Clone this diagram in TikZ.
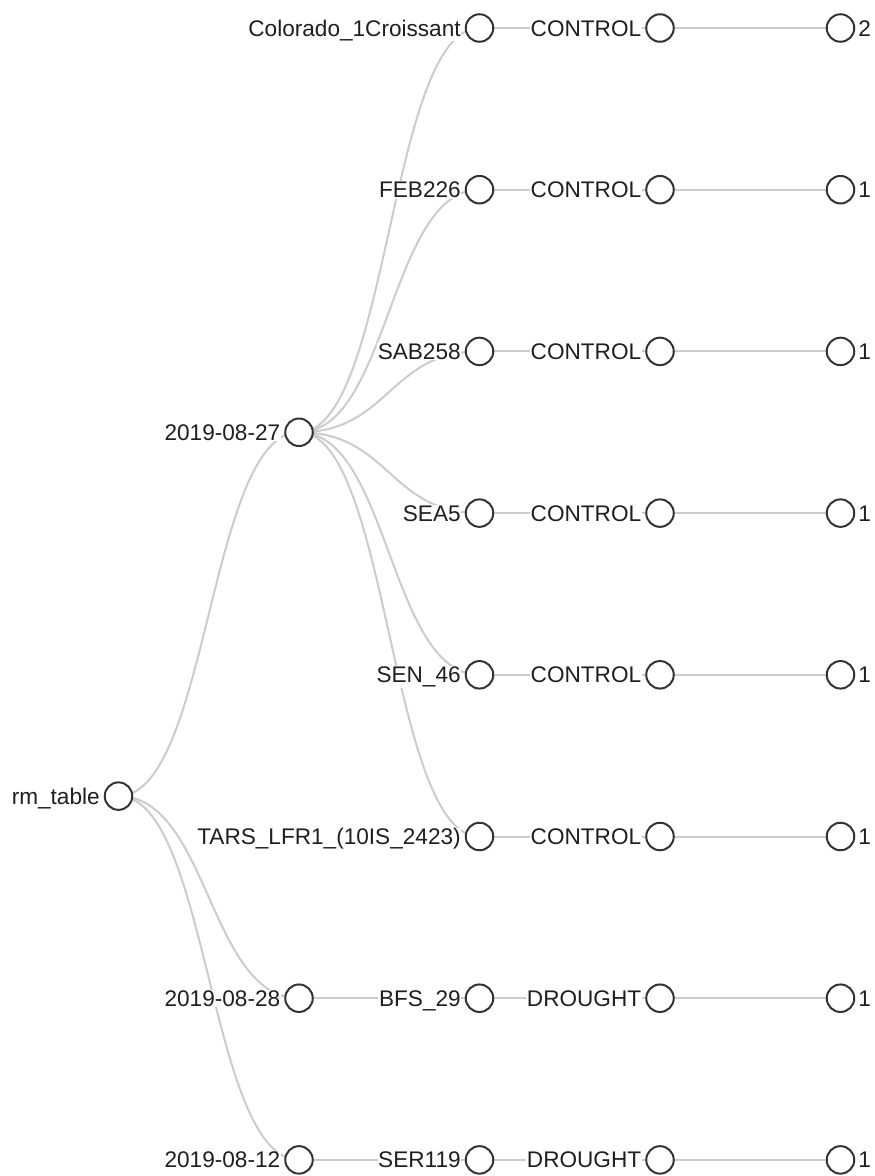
\documentclass[tikz,border=0pt]{standalone}
\usepackage{fontspec}
\setmainfont{Liberation Sans}
\usetikzlibrary{calc,backgrounds}
\begin{document}
\begin{tikzpicture}[x=1pt,y=-1pt,
  dot/.style={circle,draw=black!80,line width=2pt,fill=white,minimum size=27.5pt,inner sep=0pt},
  txt/.style={font=\fontsize{22.6}{27}\selectfont,text=black!88,fill=white,inner sep=0.6pt},
  lbl/.style={txt,anchor=base east},
  lbr/.style={txt,anchor=base west},
  link/.style={draw=black!20,line width=2pt,
    to path={let \p1=(\tikztostart),\p2=(\tikztotarget) in
      .. controls ({(\x1+\x2)/2},\y1) and ({(\x1+\x2)/2},\y2) .. (\tikztotarget)}}]
\useasboundingbox (0,0) rectangle (875,1176);

% root and dates
\node[dot] (r)  at (118.5,796.1) {};
\node[dot] (d1) at (299,432.25) {};
\node[dot] (d2) at (299,998.2) {};
\node[dot] (d3) at (299,1159.9) {};

% samples, conditions, counts
\foreach \i/\y in {1/28,2/189.7,3/351.4,4/513.1,5/674.8,6/836.5,7/998.2,8/1159.9}{
  \node[dot] (s\i) at (479.5,\y) {};
  \node[dot] (c\i) at (660,\y) {};
  \node[dot] (f\i) at (840.5,\y) {};
}

% links, behind the circles and labels
\begin{scope}[on background layer]
  \fill[white] (0,0) rectangle (875,1176);
  \foreach \d in {d1,d2,d3} \draw[link] (r.center) to (\d.center);
  \foreach \i in {1,...,6} \draw[link] (d1.center) to (s\i.center);
  \draw[link] (d2.center) to (s7.center);
  \draw[link] (d3.center) to (s8.center);
  \foreach \i in {1,...,8}{
    \draw[link] (s\i.center) to (c\i.center);
    \draw[link] (c\i.center) to (f\i.center);
  }
\end{scope}

% labels
\node[lbl] (tr)  at (100.5,804.1) {rm\_table};
\node[lbl] (td1) at (281,440.25) {2019-08-27};
\node[lbl] (td2) at (281,1006.2) {2019-08-28};
\node[lbl] (td3) at (281,1167.9) {2019-08-12};

\foreach \i/\y/\s/\c/\n in {
  1/28/Colorado\_1Croissant/CONTROL/2,
  2/189.7/FEB226/CONTROL/1,
  3/351.4/SAB258/CONTROL/1,
  4/513.1/SEA5/CONTROL/1,
  5/674.8/SEN\_46/CONTROL/1,
  6/836.5/TARS\_LFR1\_(10IS\_2423)/CONTROL/1,
  7/998.2/BFS\_29/DROUGHT/1,
  8/1159.9/SER119/DROUGHT/1}{
  \node[lbl] (ts\i) at (461.5,\y+8) {\s};
  \node[lbl] (tc\i) at (642,\y+8) {\c};
  \node[lbr] (tf\i) at (857.5,\y+8) {\n};
}
\end{tikzpicture}
\end{document}
